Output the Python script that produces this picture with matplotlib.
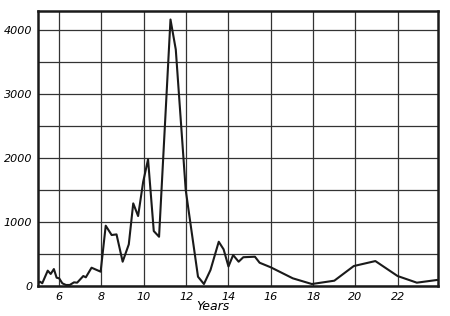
import matplotlib.pyplot as plt
import numpy as np

# values (years, count)
years = [5.0, 5.1, 5.2, 5.46, 5.6, 5.75, 5.88, 6.0, 6.15, 6.32, 6.5, 6.7, 6.85,
         7.14, 7.26, 7.53, 7.96, 8.2, 8.48, 8.71, 9.0, 9.29, 9.5, 9.73, 9.97,
         10.2, 10.47, 10.72, 11.26, 11.51, 11.98, 12.56, 12.84, 13.15, 13.54,
         13.77, 14.0, 14.22, 14.48, 14.7, 15.25, 15.47, 16.0, 17.04, 17.94,
         19.0, 19.92, 20.94, 21.99, 22.9, 23.85]
values = [45, 67, 42, 240, 188, 265, 130, 120, 42, 16, 16, 57, 52,
          156, 136, 286, 224, 943, 797, 807, 380, 651, 1292, 1094, 1630,
          1980, 859, 770, 4167, 3698, 1500, 145, 31, 250, 692,
          573, 305, 484, 380, 450, 458, 364, 292, 120, 31,
          83, 312, 390, 156, 52, 94]

xticks = [6, 8, 10, 12, 14, 16, 18, 20, 22]
yticks = [0, 1000, 2000, 3000, 4000]

fig = plt.figure(figsize=(4.5, 3.16), dpi=100)
ax = fig.add_axes([38/450, 30/316, 400/450, 275/316])

ax.plot(years, values, color='#1a1a1a', linewidth=1.5, zorder=3)

ax.set_xlim(5.0, 23.9)
ax.set_ylim(0, 4300)
ax.set_xticks(xticks)
ax.set_yticks(yticks)
ax.set_yticks(np.arange(500, 4300, 1000), minor=True)
ax.grid(which='both', color='#333333', linewidth=0.9)
ax.tick_params(which='both', length=0, labelsize=8, pad=4)
for lab in ax.get_xticklabels() + ax.get_yticklabels():
    lab.set_fontstyle('italic')
for s in ax.spines.values():
    s.set_linewidth(1.8)
    s.set_color('#1a1a1a')

fig.text(213/450, 1 - 307/316, "Years", ha='center', va='center',
         fontsize=9, fontstyle='italic')

fig.savefig("out.png", dpi=100)
